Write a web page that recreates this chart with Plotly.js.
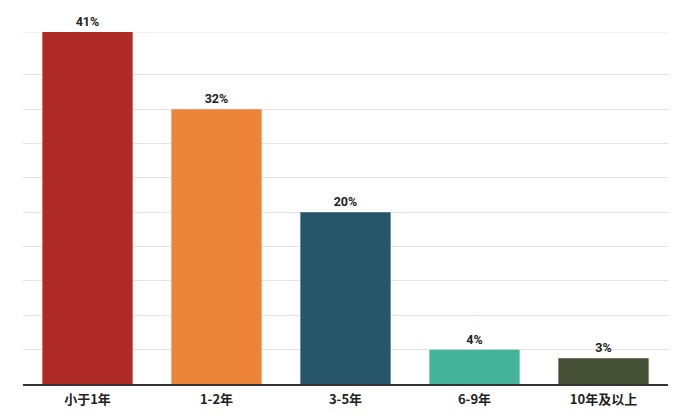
<!DOCTYPE html>
<html>
<head>
<meta charset="utf-8">
<script src="https://cdn.plot.ly/plotly-3.0.1.min.js"></script>
<style>html,body{margin:0;padding:0;background:#fff;}</style>
</head>
<body>
<div id="chart" style="width:687px;height:416px;"></div>
<script>
const categories = ["小于1年", "1-2年", "3-5年", "6-9年", "10年及以上"];
const values = [41, 32, 20, 4, 3];
const labels = ["41%", "32%", "20%", "4%", "3%"];
const colors = ["#B02A27", "#EC843A", "#27566B", "#43B39A", "#454F33"];
const gridVals = [4, 8, 12, 16, 20, 24, 28, 32, 36];

const trace = {
  type: "bar",
  x: categories,
  y: values,
  text: labels,
  textposition: "outside",
  cliponaxis: false,
  textfont: {family: "Roboto, 'Noto Sans CJK SC', sans-serif", size: 12.5, color: "#222", weight: 700},
  marker: {color: colors},
  hoverinfo: "none"
};

const layout = {
  width: 687, height: 416,
  margin: {l: 23, r: 19, t: 32, b: 32},
  paper_bgcolor: "#fff", plot_bgcolor: "#fff",
  bargap: 0.3,
  showlegend: false,
  font: {family: "'Noto Sans CJK SC', Roboto, sans-serif"},
  xaxis: {
    showline: true, linecolor: "#333", linewidth: 1.5,
    showgrid: false, ticks: "",
    ticklabelstandoff: 3,
    tickfont: {family: "'Noto Sans CJK SC', Roboto, sans-serif", size: 13, color: "#222", weight: 700},
    fixedrange: true
  },
  yaxis: {
    range: [0, 41],
    tickmode: "array", tickvals: gridVals,
    showticklabels: false,
    showgrid: true, gridcolor: "#e3e3e3", gridwidth: 1,
    zeroline: false, showline: false,
    fixedrange: true
  },
  shapes: [{
    type: "line", xref: "paper", yref: "y",
    x0: 0, x1: 1, y0: 41, y1: 41,
    line: {color: "#e3e3e3", width: 1},
    layer: "below"
  }]
};

Plotly.newPlot("chart", [trace], layout, {displayModeBar: false, staticPlot: true});
</script>
</body>
</html>
